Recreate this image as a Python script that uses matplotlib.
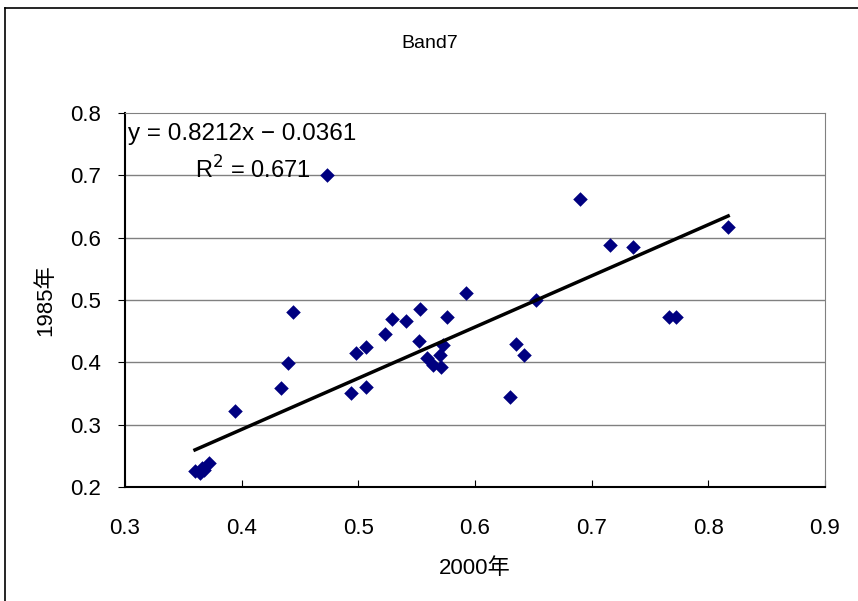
import numpy as np
import matplotlib.pyplot as plt
from matplotlib.lines import Line2D

plt.rcParams['font.family'] = ['Liberation Sans', 'Noto Sans CJK JP']

# Band7 reflectance, 2000 vs 1985
x_2000 = [0.360, 0.364, 0.366, 0.368, 0.372,
          0.394,
          0.434, 0.440, 0.444,
          0.473,
          0.494, 0.498, 0.507, 0.507,
          0.523, 0.529, 0.541, 0.553, 0.552,
          0.559, 0.564, 0.570, 0.571, 0.573,
          0.576, 0.592,
          0.630, 0.635, 0.642, 0.652,
          0.690, 0.716, 0.735,
          0.766, 0.772, 0.817]
y_1985 = [0.226, 0.222, 0.230, 0.228, 0.239,
          0.322,
          0.359, 0.399, 0.481,
          0.701,
          0.351, 0.415, 0.425, 0.361,
          0.446, 0.470, 0.467, 0.486, 0.434,
          0.407, 0.396, 0.412, 0.393, 0.428,
          0.473, 0.512,
          0.345, 0.430, 0.412, 0.500,
          0.662, 0.589, 0.585,
          0.473, 0.473, 0.617]

slope = 0.8212
intercept = -0.0361
r2 = 0.671

x_ticks = [0.3, 0.4, 0.5, 0.6, 0.7, 0.8, 0.9]
y_ticks = [0.2, 0.3, 0.4, 0.5, 0.6, 0.7, 0.8]

fig = plt.figure(figsize=(8.58, 6.01), dpi=100)
ax = fig.add_axes([125 / 858, 1 - 487 / 601, 700 / 858, 374 / 601])

# chart area frame (cut off on right and bottom)
fig.add_artist(Line2D([5 / 858, 5 / 858], [0, 1 - 8 / 601], color='black', lw=1.2,
                      transform=fig.transFigure))
fig.add_artist(Line2D([5 / 858, 1], [1 - 8 / 601, 1 - 8 / 601], color='black', lw=1.2,
                      transform=fig.transFigure))

for yv in y_ticks[1:-1]:
    ax.axhline(yv, color='#808080', lw=1.0, zorder=1)

ax.scatter(x_2000, y_1985, marker='D', s=55, color='#000080', zorder=3, linewidths=0)

xs = np.array([min(x_2000), max(x_2000)])
ax.plot(xs, slope * xs + intercept, color='black', lw=2.5, zorder=4)

ax.set_xlim(0.3, 0.9)
ax.set_ylim(0.2, 0.8)
ax.set_xticks(x_ticks)
ax.set_yticks(y_ticks)
ax.set_xticklabels([f'{v:.1f}' for v in x_ticks])
ax.set_yticklabels([f'{v:.1f}' for v in y_ticks])
ax.tick_params(axis='x', direction='in', length=5, labelsize=16, pad=22)
ax.tick_params(axis='y', direction='out', length=5, labelsize=16, pad=12)

for side in ['top', 'right']:
    ax.spines[side].set_color('#808080')
for side in ['left', 'bottom']:
    ax.spines[side].set_color('black')
    ax.spines[side].set_linewidth(1.5)

ax.set_xlabel('2000年', fontsize=16, labelpad=14)
ax.set_ylabel('1985年', fontsize=16, labelpad=10)
fig.text(430 / 858, 1 - 44 / 601, 'Band7', ha='center', va='center', fontsize=14)

sign = '\u2212' if intercept < 0 else '+'
ax.text(0.3025, 0.767, f'y = {slope:.4f}x {sign} {abs(intercept):.4f}', fontsize=17.5,
        ha='left', va='center', zorder=5)
ax.text(0.4095, 0.708, f'R$^2$ = {r2:.3f}', fontsize=17, ha='center', va='center', zorder=5)

fig.savefig('out.png', dpi=100)
